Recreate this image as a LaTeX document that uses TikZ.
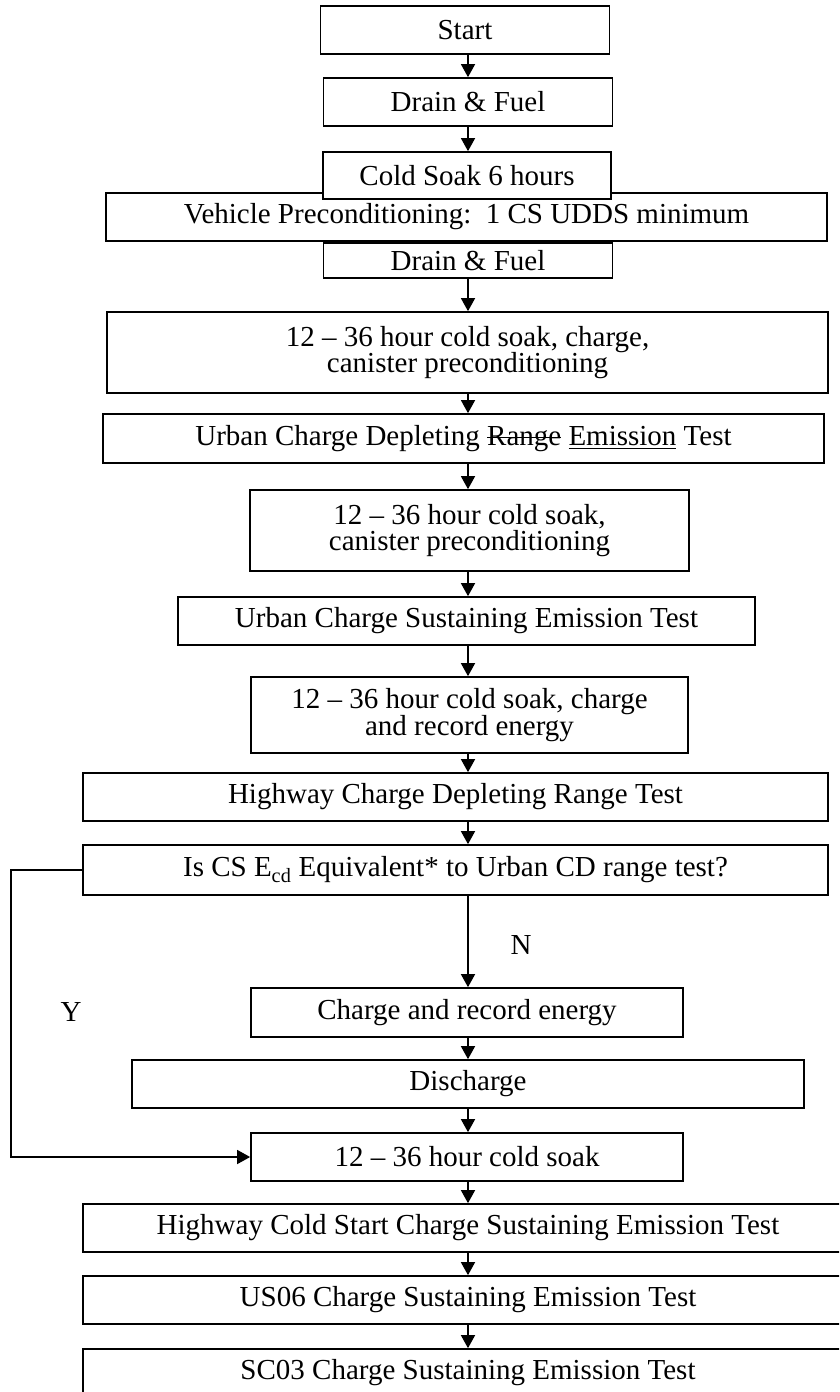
\documentclass[tikz,border=0pt]{standalone}
\usepackage{fontspec}
\setmainfont{Liberation Serif}
\usetikzlibrary{arrows.meta}

\newlength{\marklen}
\newcommand{\strk}[1]{\settowidth{\marklen}{#1}\rlap{\rule[0.24em]{\marklen}{0.055em}}#1}
\newcommand{\undl}[1]{\settowidth{\marklen}{#1}\rlap{\rule[-0.13em]{\marklen}{0.055em}}#1}

\tikzset{
  stepbox/.style={draw, line width=1.7pt, fill=white, inner sep=0pt, align=center},
  flow/.style={line width=1.5pt, -{Triangle[length=13pt, width=14pt]}},
  lbl/.style={inner sep=0pt},
}

\begin{document}
\begin{tikzpicture}[x=1pt, y=-1pt, font=\fontsize{29}{26.5}\selectfont]
  \clip (0,0) rectangle (839,1392);
  \coordinate (axis) at (468,0);

  % top: start and preconditioning
  \node[stepbox, minimum width=289, minimum height=48] (start) at (465,30) {Start};
  \node[stepbox, minimum width=289, minimum height=48] (drain1) at (468,102) {Drain \& Fuel};
  \node[stepbox, minimum width=721, minimum height=48] (precond) at (466.5,217) {Vehicle Preconditioning:\ \ 1 CS UDDS minimum};
  \node[stepbox, minimum width=288, minimum height=47] (soak6) at (467,175.5) {Cold Soak 6 hours};
  \node[stepbox, minimum width=289, minimum height=35] (drain2) at (468,260.5) {Drain \& Fuel};

  % urban tests
  \node[stepbox, minimum width=721, minimum height=81] (soak12a) at (467.5,352.5) {12 -- 36 hour cold soak, charge,\\ canister preconditioning};
  \node[stepbox, minimum width=721, minimum height=49] (urbancd) at (463.5,438.5) {Urban Charge Depleting \strk{Range} \undl{Emission} Test};
  \node[stepbox, minimum width=439, minimum height=81] (soak12b) at (469.5,530.5) {12 -- 36 hour cold soak,\\ canister preconditioning};
  \node[stepbox, minimum width=577, minimum height=48] (urbancs) at (466.5,621) {Urban Charge Sustaining Emission Test};
  \node[stepbox, minimum width=437, minimum height=76] (soak12c) at (469.5,715) {12 -- 36 hour cold soak, charge\\ and record energy};

  % highway and decision
  \node[stepbox, minimum width=745, minimum height=48] (hwycd) at (455.5,797) {Highway Charge Depleting Range Test};
  \node[stepbox, minimum width=745, minimum height=50] (equiv) at (455.5,870) {Is CS E\textsubscript{cd} Equivalent* to Urban CD range test?};
  \node[lbl] (no) at (521,945) {N};
  \node[lbl] (yes) at (71,1012) {Y};
  \node[stepbox, minimum width=432, minimum height=49] (chgrec) at (467,1012.5) {Charge and record energy};
  \node[stepbox, minimum width=672, minimum height=48] (dischg) at (468,1084) {Discharge};
  \node[stepbox, minimum width=432, minimum height=48] (soak12d) at (467,1157) {12 -- 36 hour cold soak};

  % final tests
  \node[stepbox, minimum width=770, minimum height=48] (hwycs) at (468,1228) {Highway Cold Start Charge Sustaining Emission Test};
  \node[stepbox, minimum width=770, minimum height=48] (us06) at (468,1300) {US06 Charge Sustaining Emission Test};
  \node[stepbox, minimum width=770, minimum height=48] (sc03) at (468,1373) {SC03 Charge Sustaining Emission Test};

  % arrows
  \draw[flow] (axis |- start.south) -- (axis |- drain1.north);
  \draw[flow] (axis |- drain1.south) -- (axis |- soak6.north);
  \draw[flow] (axis |- drain2.south) -- (axis |- soak12a.north);
  \draw[flow] (axis |- soak12a.south) -- (axis |- urbancd.north);
  \draw[flow] (axis |- urbancd.south) -- (axis |- soak12b.north);
  \draw[flow] (axis |- soak12b.south) -- (axis |- urbancs.north);
  \draw[flow] (axis |- urbancs.south) -- (axis |- soak12c.north);
  \draw[flow] (axis |- soak12c.south) -- (axis |- hwycd.north);
  \draw[flow] (axis |- hwycd.south) -- (axis |- equiv.north);
  \draw[flow] (axis |- equiv.south) -- (axis |- chgrec.north);
  \draw[flow] (axis |- chgrec.south) -- (axis |- dischg.north);
  \draw[flow] (axis |- dischg.south) -- (axis |- soak12d.north);
  \draw[flow] (axis |- soak12d.south) -- (axis |- hwycs.north);
  \draw[flow] (axis |- hwycs.south) -- (axis |- us06.north);
  \draw[flow] (axis |- us06.south) -- (axis |- sc03.north);
  % yes branch
  \draw[flow] (equiv.west) -- ++(-71,0) |- (soak12d.west);
\end{tikzpicture}
\end{document}
